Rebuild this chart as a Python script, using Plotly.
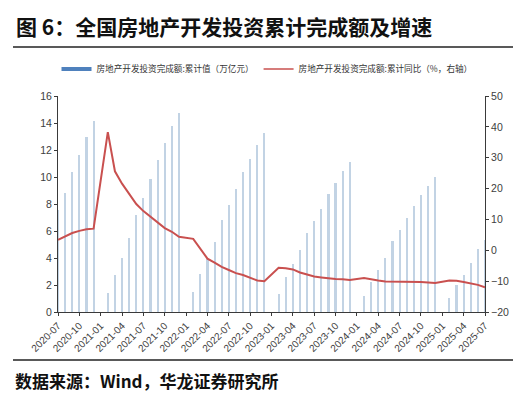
import plotly.graph_objects as go

months = [f"{y}-{m:02d}" for y in range(2020, 2026) for m in range(1, 13)]
months = months[months.index("2020-07"):months.index("2025-07") + 1]

# cumulative investment (trillion yuan); None for January (not published)
invest = [
    7.55, 8.84, 10.35, 11.66, 12.95, 14.14,
    None, 1.40, 2.76, 4.02, 5.46, 7.22, 8.48, 9.83, 11.26, 12.49, 13.75, 14.76,
    None, 1.45, 2.78, 3.92, 5.21, 6.83, 7.95, 9.08, 10.36, 11.36, 12.34, 13.29,
    None, 1.37, 2.59, 3.55, 4.57, 5.86, 6.77, 7.66, 8.73, 9.59, 10.42, 11.09,
    None, 1.18, 2.21, 3.09, 4.02, 5.25, 6.09, 6.98, 7.87, 8.69, 9.35, 10.03,
    None, 1.07, 1.99, 2.76, 3.62, 4.66, 5.36,
]
yoy = [
    3.4, 4.6, 5.6, 6.3, 6.8, 7.0,
    None, 38.3, 25.6, 21.6, 18.3, 15.0, 12.7, 10.9, 8.8, 7.2, 6.0, 4.4,
    None, 3.7, 0.7, -2.7, -4.0, -5.4, -6.4, -7.4, -8.0, -8.8, -9.8, -10.0,
    None, -5.7, -5.8, -6.2, -7.2, -7.9, -8.5, -8.8, -9.1, -9.3, -9.4, -9.6,
    None, -9.0, -9.5, -9.8, -10.1, -10.1, -10.2, -10.2, -10.1, -10.3, -10.4, -10.6,
    None, -9.8, -9.9, -10.3, -10.7, -11.2, -12.0,
]
tick_labels = months[::3]
left_ticks = list(range(0, 17, 2))
right_ticks = list(range(-20, 51, 10))

title_text = "图 6：全国房地产开发投资累计完成额及增速"
source_text = "数据来源：Wind，华龙证券研究所"
name_bar = "房地产开发投资完成额:累计值（万亿元）"
name_line = "房地产开发投资完成额:累计同比（%，右轴）"

BAR = "#c2d3e4"
BAR_LEG = "#4f81bd"
RED = "#c9504f"
AX = "#3a3a3a"
TXT = "#404040"

fig = go.Figure()
fig.add_trace(go.Bar(x=months, y=invest, width=0.3, marker=dict(color=BAR, line=dict(width=0)),
                     showlegend=False, yaxis="y"))
fig.add_trace(go.Scatter(x=months, y=yoy, mode="lines", connectgaps=True,
                         line=dict(color=RED, width=2), showlegend=False, yaxis="y2"))
# legend entries
fig.add_trace(go.Scatter(x=[None], y=[None], mode="lines", line=dict(color=BAR_LEG, width=4),
                         name=name_bar))
fig.add_trace(go.Scatter(x=[None], y=[None], mode="lines", line=dict(color=RED, width=1.5),
                         name=name_line, yaxis="y2"))

L, R, T, B = 50, 44, 88, 89
W, H = 521, 393
pw, ph = W - L - R, H - T - B

def py(p):
    return (H - B - p) / ph

def px(p):
    return (p - L) / pw

fig.update_layout(
    width=W, height=H,
    margin=dict(l=L, r=R, t=T, b=B),
    plot_bgcolor="white", paper_bgcolor="white",
    font=dict(family="Liberation Sans, Arial, sans-serif", size=10, color=TXT),
    bargap=0,
    xaxis=dict(type="category", range=[0, len(months) - 1], tickmode="array",
               tickvals=tick_labels, ticktext=tick_labels, tickangle=-45,
               showline=True, linecolor=AX, linewidth=1, ticks="outside", ticklen=3,
               tickcolor=AX, showgrid=False, tickfont=dict(size=10, color=TXT)),
    yaxis=dict(range=[0, 16], tickvals=left_ticks, showline=True, linecolor=AX, linewidth=1,
               ticks="outside", ticklen=3, tickcolor=AX, showgrid=False, zeroline=False,
               tickfont=dict(size=10.5, color=TXT)),
    yaxis2=dict(range=[-20, 50], tickvals=right_ticks, overlaying="y", side="right",
                showline=True, linecolor=AX, linewidth=1, ticks="outside", ticklen=3,
                tickcolor=AX, showgrid=False, zeroline=False, tickfont=dict(size=10.5, color=TXT)),
    legend=dict(orientation="h", x=px(259), xanchor="center", y=py(61), yanchor="middle",
                font=dict(family="Noto Sans CJK SC", size=8.6, color="#333"),
                itemwidth=30, bgcolor="rgba(0,0,0,0)", tracegroupgap=0),
    annotations=[
        dict(text=title_text, xref="paper", yref="paper",
             x=px(6), y=py(18), xanchor="left", yanchor="middle", showarrow=False,
             font=dict(family="Noto Sans CJK SC", size=21, color="#111", weight=700)),
        dict(text=source_text, xref="paper", yref="paper",
             x=px(5), y=py(372), xanchor="left", yanchor="middle", showarrow=False,
             font=dict(family="Noto Sans CJK SC", size=17, color="#111", weight=700)),
    ],
    shapes=[
        dict(type="line", xref="paper", yref="paper", x0=px(5), x1=px(516), y0=py(39), y1=py(39),
             line=dict(color="#222", width=1.5)),
        dict(type="line", xref="paper", yref="paper", x0=px(5), x1=px(516), y0=py(352), y1=py(352),
             line=dict(color="#222", width=1.5)),
    ],
)

fig.write_html("out.html")
